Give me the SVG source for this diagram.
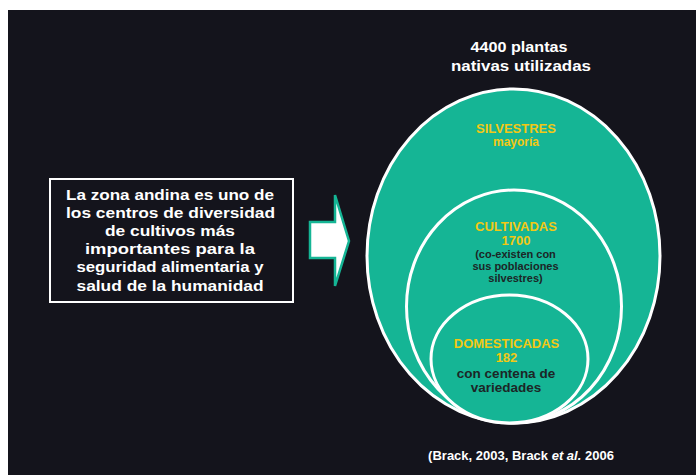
<svg xmlns="http://www.w3.org/2000/svg" width="696" height="475" viewBox="0 0 696 475">
<style>
text{font-family:"Liberation Sans",Arial,sans-serif;font-weight:bold;text-anchor:middle}
.w{fill:#ffffff}
.y{fill:#f2c814}
.d{fill:#1c2626}
.ell{fill:#15b595;stroke:#ffffff;stroke-width:3}
</style>
<rect x="0" y="0" width="696" height="475" fill="#ffffff"/>
<rect x="8" y="10" width="688" height="465" fill="#14141c"/>
<g id="title">
<text class="w" x="519" y="52" font-size="15" textLength="97" lengthAdjust="spacingAndGlyphs">4400 plantas</text>
<text class="w" x="521" y="71" font-size="15" textLength="140" lengthAdjust="spacingAndGlyphs">nativas utilizadas</text>
</g>
<g id="box">
<rect x="50" y="179" width="243" height="123" fill="#14141c" stroke="#ffffff" stroke-width="2"/>
<text class="w" x="170" y="199.5" font-size="15.5" textLength="208" lengthAdjust="spacingAndGlyphs">La zona andina es uno de</text>
<text class="w" x="170.5" y="217.7" font-size="15.5" textLength="209" lengthAdjust="spacingAndGlyphs">los centros de diversidad</text>
<text class="w" x="170" y="235.9" font-size="15.5" textLength="130" lengthAdjust="spacingAndGlyphs">de cultivos más</text>
<text class="w" x="170" y="254.1" font-size="15.5" textLength="170" lengthAdjust="spacingAndGlyphs">importantes para la</text>
<text class="w" x="170" y="272.3" font-size="15.5" textLength="187" lengthAdjust="spacingAndGlyphs">seguridad alimentaria y</text>
<text class="w" x="170" y="290.5" font-size="15.5" textLength="187" lengthAdjust="spacingAndGlyphs">salud de la humanidad</text>
</g>
<g id="connectors">
<path d="M310,222 L335,222 L335,195 L349,241 L335,286 L335,258 L310,258 Z" fill="#ffffff" stroke="#15b595" stroke-width="2.5" stroke-linejoin="miter"/>
</g>
<g id="silvestres">
<ellipse class="ell" cx="513.5" cy="256" rx="146.5" ry="167"/>
<text class="y" x="516" y="133" font-size="13">SILVESTRES</text>
<text class="y" x="516" y="146" font-size="12">mayoría</text>
</g>
<g id="cultivadas">
<ellipse class="ell" cx="514" cy="306.5" rx="107.5" ry="116.5"/>
<text class="y" x="516" y="230.5" font-size="13">CULTIVADAS</text>
<text class="y" x="516" y="245" font-size="13">1700</text>
<text class="d" x="515.5" y="257.5" font-size="11">(co-existen con</text>
<text class="d" x="515.5" y="269.5" font-size="11">sus poblaciones</text>
<text class="d" x="515.5" y="281.5" font-size="11">silvestres)</text>
</g>
<g id="domesticadas">
<ellipse class="ell" cx="509.5" cy="359" rx="78.5" ry="64"/>
<text class="y" x="506.5" y="347.5" font-size="13">DOMESTICADAS</text>
<text class="y" x="506.5" y="362" font-size="13">182</text>
<text class="d" x="506" y="377.5" font-size="13.5">con centena de</text>
<text class="d" x="506" y="392" font-size="13.5">variedades</text>
</g>
<g id="cita">
<text class="w" x="521" y="460" font-size="13">(Brack, 2003, Brack <tspan font-style="italic">et al.</tspan> 2006</text>
</g>
</svg>
